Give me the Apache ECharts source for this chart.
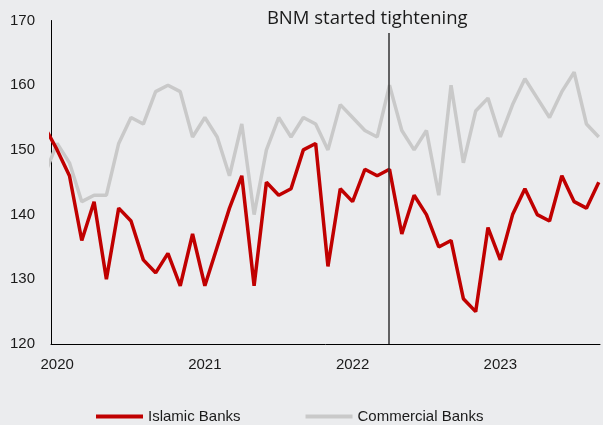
<!DOCTYPE html>
<html>
<head>
<meta charset="utf-8">
<script src="https://cdn.jsdelivr.net/npm/echarts@6/dist/echarts.min.js"></script>
<style>
html,body{margin:0;padding:0;background:#ebecee;}
#chart{width:603px;height:425px;}
</style>
</head>
<body>
<div id="chart"></div>
<script>
// Monthly index values, Dec 2019 (partly visible at the left edge) through Sep 2023
const months = ['2019-12',
  '2020-01','2020-02','2020-03','2020-04','2020-05','2020-06','2020-07','2020-08','2020-09','2020-10','2020-11','2020-12',
  '2021-01','2021-02','2021-03','2021-04','2021-05','2021-06','2021-07','2021-08','2021-09','2021-10','2021-11','2021-12',
  '2022-01','2022-02','2022-03','2022-04','2022-05','2022-06','2022-07','2022-08','2022-09','2022-10','2022-11','2022-12',
  '2023-01','2023-02','2023-03','2023-04','2023-05','2023-06','2023-07','2023-08','2023-09'];
const islamicBanks = [153.5,
  150,146,136,142,130,141,139,133,131,134,129,137,
  129,135,141,146,129,145,143,144,150,151,132,144,
  142,147,146,147,137,143,140,135,136,127,125,138,
  133,140,144,140,139,146,142,141,145];
const commercialBanks = [146.3,
  151,148,142,143,143,151,155,154,159,160,159,152,
  155,152,146,154,140,150,155,152,155,154,150,157,
  155,153,152,160,153,150,153,143,160,148,156,158,
  152,157,161,158,155,159,162,154,152];
const yearLabels = ['2020','2021','2022','2023'];
const yTicks = [120,130,140,150,160,170];
const tighteningMonth = '2022-04';
const annotation = 'BNM started tightening';

// month index relative to Jan 2020
const idx = m => { const [y, mo] = m.split('-').map(Number); return (y - 2020) * 12 + (mo - 1); };
const yearPos = yearLabels.map(y => idx(y + '-01'));
const toPairs = arr => arr.map((v, i) => [idx(months[i]), v]);

const FONT = "'Liberation Sans', Arial, sans-serif";

const chart = echarts.init(document.getElementById('chart'));
chart.setOption({
  backgroundColor: '#ebecee',
  animation: false,
  grid: {left: 51, right: 3, top: 20.5, bottom: 81},
  legend: {
    data: ['Islamic Banks', 'Commercial Banks'],
    left: 91, top: 404,
    itemWidth: 47, itemHeight: 4, itemGap: 65,
    icon: 'rect',
    textStyle: {fontFamily: FONT, fontSize: 15, color: '#1a1a1a'}
  },
  xAxis: {
    type: 'value', min: -0.5, max: 44.1,
    splitLine: {show: false},
    axisTick: {show: false},
    axisLine: {show: true, onZero: false, lineStyle: {color: '#000', width: 1}},
    axisLabel: {
      customValues: yearPos,
      formatter: v => yearLabels[yearPos.indexOf(v)] || '',
      margin: 13,
      fontFamily: FONT, fontSize: 15, color: '#1a1a1a'
    }
  },
  yAxis: {
    type: 'value', min: yTicks[0], max: yTicks[yTicks.length - 1], interval: 10,
    splitLine: {show: false},
    axisTick: {show: false},
    axisLine: {show: true, onZero: false, lineStyle: {color: '#000', width: 1}},
    axisLabel: {margin: 16, fontFamily: FONT, fontSize: 15, color: '#1a1a1a'}
  },
  series: [
    {
      name: 'Commercial Banks', type: 'line', symbol: 'none',
      data: toPairs(commercialBanks),
      lineStyle: {color: '#c9c9c9', width: 3.5},
      itemStyle: {color: '#c9c9c9'},
      z: 2
    },
    {
      name: 'Islamic Banks', type: 'line', symbol: 'none',
      data: toPairs(islamicBanks),
      lineStyle: {color: '#c00000', width: 3.5},
      itemStyle: {color: '#c00000'},
      z: 3,
      markLine: {
        silent: true, symbol: 'none',
        lineStyle: {color: '#333', width: 1.5, type: 'solid'},
        label: {
          show: true, position: 'start', formatter: annotation,
          fontFamily: "'Open Sans', sans-serif", fontSize: 18.5, color: '#1a1a1a',
          distance: 5, offset: [-21, 0]
        },
        data: [[
          {coord: [idx(tighteningMonth) - 0.1, 168.05]},
          {coord: [idx(tighteningMonth) - 0.1, 120]}
        ]]
      }
    }
  ]
});
</script>
</body>
</html>
